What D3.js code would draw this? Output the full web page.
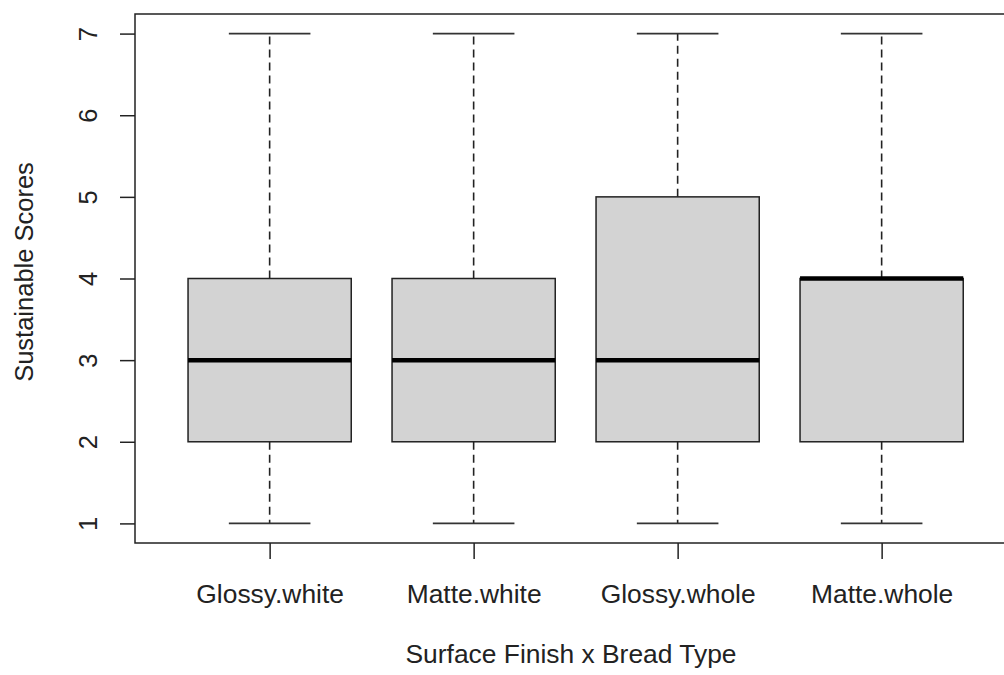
<!DOCTYPE html>
<html>
<head>
<meta charset="utf-8">
<script src="https://cdn.jsdelivr.net/npm/d3@7"></script>
<style>
  html, body { margin: 0; padding: 0; background: #fff; }
  svg { display: block; }
  text { font-family: "Liberation Sans", Arial, sans-serif; fill: #222; }
</style>
</head>
<body>
<svg id="chart" width="1004" height="675"></svg>
<script>
const categories = ["Glossy.white", "Matte.white", "Glossy.whole", "Matte.whole"];
const whiskerLow = [1, 1, 1, 1];
const q1 = [2, 2, 2, 2];
const median = [3, 3, 3, 4];
const q3 = [4, 4, 5, 4];
const whiskerHigh = [7, 7, 7, 7];
const yTicks = [1, 2, 3, 4, 5, 6, 7];
const xTitle = "Surface Finish x Bread Type";
const yTitle = "Sustainable Scores";

(function () {
const svg = d3.select("#chart");
const mLeft = 135, mTop = 14, unitX = 204;
const mRight = mLeft + 4.32 * unitX;
const mBottom = 543;

const x = d3.scaleLinear().domain([0.34, 4.66]).range([mLeft, mRight]);
const y = d3.scaleLinear().domain([0.76, 7.24]).range([mBottom, mTop]);

const boxW = 0.8 * unitX;
const data = categories.map((c, i) => ({
  c, pos: i + 1, lo: whiskerLow[i], q1: q1[i], med: median[i], q3: q3[i], hi: whiskerHigh[i]
}));

const g = svg.append("g");
const stroke = "#222";

data.forEach(d => {
  const cx = x(d.pos);
  g.append("line").attr("x1", cx).attr("x2", cx).attr("y1", y(d.q3)).attr("y2", y(d.hi))
    .attr("stroke", stroke).attr("stroke-width", 1.6).attr("stroke-dasharray", "8,5");
  g.append("line").attr("x1", cx).attr("x2", cx).attr("y1", y(d.q1)).attr("y2", y(d.lo))
    .attr("stroke", stroke).attr("stroke-width", 1.6).attr("stroke-dasharray", "8,5");
  [d.lo, d.hi].forEach(v => {
    g.append("line").attr("x1", cx - boxW / 4).attr("x2", cx + boxW / 4)
      .attr("y1", y(v)).attr("y2", y(v))
      .attr("stroke", "#333").attr("stroke-width", 1.8);
  });
  g.append("rect").attr("x", cx - boxW / 2).attr("width", boxW)
    .attr("y", y(d.q3)).attr("height", y(d.q1) - y(d.q3))
    .attr("fill", "#d3d3d3").attr("stroke", stroke).attr("stroke-width", 1.5);
  g.append("line").attr("x1", cx - boxW / 2).attr("x2", cx + boxW / 2)
    .attr("y1", y(d.med)).attr("y2", y(d.med))
    .attr("stroke", "#000").attr("stroke-width", 4.5);
});

svg.append("rect").attr("x", mLeft).attr("y", mTop).attr("width", mRight - mLeft).attr("height", mBottom - mTop)
  .attr("fill", "none").attr("stroke", stroke).attr("stroke-width", 1.5);

const yAxis = svg.append("g").attr("transform", `translate(${mLeft},0)`)
  .call(d3.axisLeft(y).tickValues(yTicks).tickSize(15).tickFormat(d3.format("d")));
yAxis.select(".domain").remove();
yAxis.selectAll("line").attr("stroke", stroke).attr("stroke-width", 1.5);
yAxis.selectAll("text")
  .attr("x", null).attr("dy", null).attr("y", null)
  .attr("transform", "translate(-38,0) rotate(-90)")
  .attr("text-anchor", "middle")
  .style("font-size", "25.5px").style("font-family", "Liberation Sans, Arial, sans-serif").attr("fill", "#222");

const xAxis = svg.append("g").attr("transform", `translate(0,${mBottom})`)
  .call(d3.axisBottom(x).tickValues(data.map(d => d.pos)).tickSize(16).tickFormat((v, i) => categories[i]));
xAxis.select(".domain").remove();
xAxis.selectAll("line").attr("stroke", stroke).attr("stroke-width", 1.5);
xAxis.selectAll("text")
  .attr("dy", null).attr("y", 60)
  .style("font-size", "26.4px").style("font-family", "Liberation Sans, Arial, sans-serif").attr("fill", "#222");

svg.append("text").attr("x", 571).attr("y", 663)
  .attr("text-anchor", "middle").style("font-size", "26.4px").text(xTitle);
svg.append("text").attr("transform", `translate(33,272) rotate(-90)`)
  .attr("text-anchor", "middle").style("font-size", "25.5px").text(yTitle);
})();
</script>
</body>
</html>
